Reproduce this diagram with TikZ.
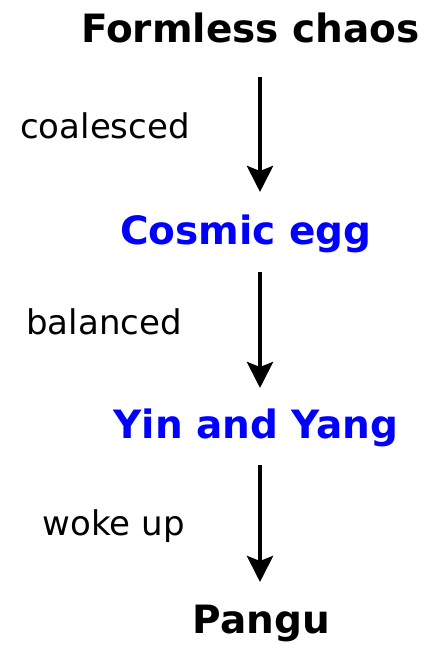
\documentclass[tikz,border=0pt]{standalone}
\usepackage{fontspec}
\setmainfont{DejaVu Sans}
\usetikzlibrary{arrows.meta, positioning}

\begin{document}
\begin{tikzpicture}[
  x=1pt, y=-1pt,
  stage/.style={inner sep=0pt, anchor=base, font=\fontsize{39}{46}\selectfont\bfseries},
  lbl/.style={inner sep=0pt, anchor=base east, font=\fontsize{34}{40}\selectfont},
  arr/.style={-{Stealth[length=26pt, width=26pt, inset=5pt]}, line width=4.5pt}
]
\useasboundingbox (0,0) rectangle (439,645);

% Stages
\node[stage] (chaos) at (250.5,42) {Formless chaos};
\node[stage, text=blue] (egg) at (246,244) {Cosmic egg};
\node[stage, text=blue] (yinyang) at (256,438) {Yin and Yang};
\node[stage] (pangu) at (261.5,633) {Pangu};

% Labels
\node[lbl] (coal) at (190,138) {coalesced};
\node[lbl] (bal) at (182,334) {balanced};
\node[lbl] (woke) at (185,535) {woke up};

% Arrows
\draw[arr] ([yshift=-35pt]chaos.base -| 260,0) -- ([yshift=52pt]egg.base -| 260,0);
\draw[arr] ([yshift=-28pt]egg.base -| 260,0) -- ([yshift=50pt]yinyang.base -| 260,0);
\draw[arr] ([yshift=-27pt]yinyang.base -| 260,0) -- ([yshift=51pt]pangu.base -| 260,0);

\end{tikzpicture}
\end{document}
